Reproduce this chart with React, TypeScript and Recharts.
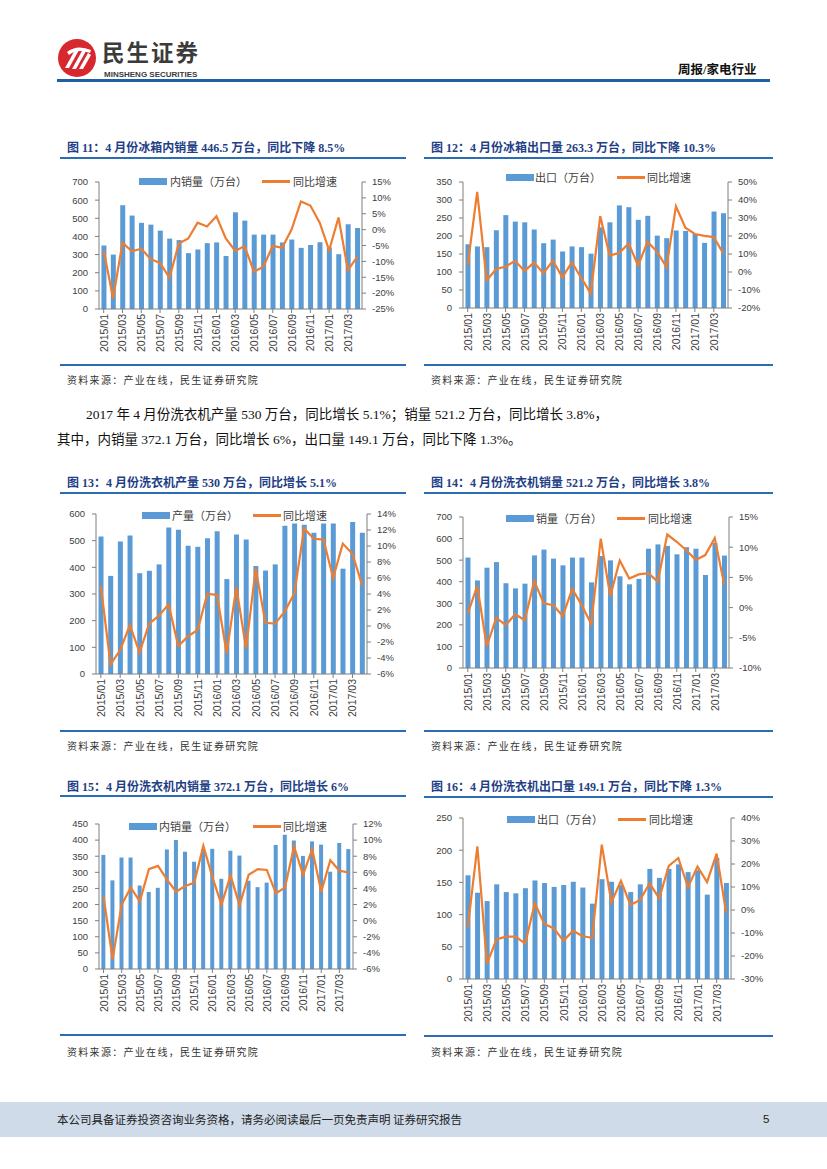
import { ComposedChart, Bar, Line, XAxis, YAxis, Legend } from "recharts"

// 2015/01 .. 2017/04
const months = [
  "2015/01", "2015/02", "2015/03", "2015/04", "2015/05", "2015/06", "2015/07", "2015/08", "2015/09", "2015/10", "2015/11", "2015/12",
  "2016/01", "2016/02", "2016/03", "2016/04", "2016/05", "2016/06", "2016/07", "2016/08", "2016/09", "2016/10", "2016/11", "2016/12",
  "2017/01", "2017/02", "2017/03", "2017/04",
]

// 图11 冰箱内销量
const fridgeDomestic = [350, 300, 572, 515, 475, 465, 432, 388, 380, 308, 328, 363, 367, 292, 533, 487, 410, 410, 410, 367, 383, 337, 353, 368, 340, 302, 467, 446.5]
const fridgeDomesticYoy = [-6.5, -21.7, -4.1, -6.8, -6.0, -9.3, -10.5, -15.2, -4.4, -2.8, 2.2, 1.0, 4.2, -2.8, -6.7, -5.2, -13.3, -11.7, -5.1, -5.7, 0, 8.9, 7.6, 2.2, -6.5, 3.8, -12.8, -8.5]

// 图12 冰箱出口量
const fridgeExport = [177, 171, 169, 216, 258, 240, 238, 218, 180, 190, 157, 171, 169, 151, 224, 238, 285, 280, 245, 256, 201, 194, 215, 214, 206, 181, 268, 263.3]
const fridgeExportYoy = [3.9, 44.5, -4.7, 1.7, 3.0, 6.2, 0.6, 5.2, -0.7, 6.3, -3.0, 5.4, -3.4, -11.9, 31.0, 9.1, 10.6, 15.9, 3.6, 16.8, 11.3, 2.7, 36.5, 24.6, 21.1, 20.1, 19.4, 10.3]

// 图13 洗衣机产量
const washerOutput = [516, 368, 497, 519, 378, 387, 411, 549, 541, 481, 477, 509, 535, 356, 523, 504, 405, 388, 411, 556, 564, 560, 530, 564, 564, 395, 570, 530]
const washerOutputYoy = [5.0, -4.8, -3.0, 0.1, -3.3, 0.3, 1.3, 2.7, -2.5, -1.3, -0.5, 4.0, 3.9, -3.4, 4.9, -2.8, 7.2, 0.4, 0.3, 1.8, 4.1, 12.2, 10.9, 10.8, 6.0, 10.3, 9.0, 5.1]

// 图14 洗衣机销量
const washerSales = [512, 406, 465, 491, 393, 369, 391, 522, 549, 507, 476, 512, 512, 397, 519, 499, 425, 388, 413, 553, 573, 566, 527, 560, 553, 431, 580, 521.2]
const washerSalesYoy = [-1.0, 3.6, -6.4, -1.7, -2.9, -1.1, -2.1, 4.4, 0.7, 0.4, -1.4, 3.1, 0.4, -2.7, 11.4, 1.9, 7.8, 4.8, 5.5, 5.7, 4.3, 12.1, 10.9, 9.5, 7.9, 8.7, 11.5, 3.8]

// 图15 洗衣机内销量
const washerDomestic = [354, 275, 346, 346, 259, 239, 252, 371, 400, 364, 333, 372, 373, 280, 367, 352, 274, 254, 268, 385, 417, 399, 351, 396, 386, 302, 391, 372.1]
const washerDomesticYoy = [3.0, -4.8, 2.0, 4.1, 2.4, 6.4, 6.8, 5.1, 3.6, 4.3, 4.7, 9.3, 5.4, 2.0, 5.6, 1.9, 5.7, 6.4, 6.3, 3.4, 4.1, 9.2, 5.7, 8.9, 3.6, 7.5, 6.2, 6.0]

// 图16 洗衣机出口量
const washerExport = [161, 134, 121, 147, 135, 133, 141, 153, 149, 143, 146, 151, 142, 117, 155, 151, 146, 135, 147, 171, 157, 171, 178, 166, 169, 131, 188, 149.1]
const washerExportYoy = [-7.6, 27.7, -23.3, -12.8, -11.6, -11.6, -14.6, 2.9, -6.1, -8.0, -13.4, -9.0, -11.4, -12.1, 28.4, 3.3, 12.7, 2.2, 4.4, 11.6, 5.1, 19.2, 22.6, 9.9, 18.9, 12.1, 24.5, -1.3]

const BLUE_BAR = "#5b9bd5"
const ORANGE = "#ed7d31"
const AXIS = "#7f7f7f"
const TICK_TEXT = "#404040"
const RULE = "#2a6db5"
const TITLE = "#1f3f86"

const tickFont = '"Liberation Sans", Arial, sans-serif'
const cjkSans = '"Noto Sans CJK SC", sans-serif'
const serifCjk = '"Liberation Serif", "Noto Sans CJK SC", serif'

function buildRows(values: number[], yoy: number[]) {
  return months.map((m, i) => ({ month: m, value: values[i], yoy: yoy[i] }))
}

const MonthTick = (props: any) => {
  const { x, y, payload } = props
  return (
    <text
      x={x}
      y={y}
      transform={`rotate(-90 ${x} ${y})`}
      textAnchor="end"
      dominantBaseline="central"
      fontSize={10.5}
      fontFamily={tickFont}
      fill={TICK_TEXT}
    >
      {payload.value}
    </text>
  )
}

interface LegendPos {
  sw1: number
  tx1: number
  sw2: number
  tx2: number
  y: number
}

interface ChartBoxProps {
  rows: { month: string; value: number; yoy: number }[]
  barName: string
  leftMax: number
  leftStep: number
  rightMin: number
  rightMax: number
  rightStep: number
  plot: { l: number; t: number; r: number; b: number }
  legend: LegendPos
}

function range(min: number, max: number, step: number) {
  const out: number[] = []
  for (let v = min; v <= max + 1e-9; v += step) out.push(Math.round(v * 100) / 100)
  return out
}

function ChartBox({ rows, barName, leftMax, leftStep, rightMin, rightMax, rightStep, plot, legend }: ChartBoxProps) {
  const width = plot.r - plot.l + 88
  const height = plot.b - plot.t + 58
  const chartLeft = plot.l - 44
  const chartTop = plot.t - 8

  const renderLegend = (lp: any) => {
    const items = lp.payload || []
    const barItem = items.find((p: any) => p.dataKey === "value")
    const lineItem = items.find((p: any) => p.dataKey === "yoy")
    const cy = legend.y - chartTop
    const txt = { position: "absolute" as const, top: cy - 8, fontSize: 11, lineHeight: "16px", fontFamily: cjkSans, color: "#404040", whiteSpace: "nowrap" as const }
    return (
      <div style={{ position: "relative", width, height: 0 }}>
        <div style={{ position: "absolute", left: legend.sw1 - chartLeft, top: cy - 3.5, width: 28, height: 7, background: barItem?.color || BLUE_BAR }} />
        <div style={{ ...txt, left: legend.tx1 - chartLeft }}>{barItem?.value}</div>
        <div style={{ position: "absolute", left: legend.sw2 - chartLeft, top: cy - 1.5, width: 28, height: 3, background: lineItem?.color || ORANGE }} />
        <div style={{ ...txt, left: legend.tx2 - chartLeft }}>{lineItem?.value}</div>
      </div>
    )
  }

  return (
    <div style={{ position: "absolute", left: chartLeft, top: chartTop }}>
      <ComposedChart width={width} height={height} data={rows} margin={{ top: 8, right: 4, left: 4, bottom: 0 }} barCategoryGap="26%">
        <XAxis
          dataKey="month"
          interval={1}
          height={50}
          tick={<MonthTick />}
          tickSize={4}
          tickMargin={1}
          stroke={AXIS}
        />
        <YAxis
          yAxisId="left"
          width={40}
          domain={[0, leftMax]}
          ticks={range(0, leftMax, leftStep)}
          tickSize={4}
          tickMargin={7}
          stroke={AXIS}
          tick={{ fontSize: 9.5, fill: TICK_TEXT, fontFamily: tickFont }}
          allowDataOverflow
        />
        <YAxis
          yAxisId="right"
          orientation="right"
          width={40}
          domain={[rightMin, rightMax]}
          ticks={range(rightMin, rightMax, rightStep)}
          tickSize={4}
          tickMargin={6}
          stroke={AXIS}
          tick={{ fontSize: 9.5, fill: TICK_TEXT, fontFamily: tickFont }}
          tickFormatter={(v: number) => `${v}%`}
          allowDataOverflow
        />
        <Legend
          layout="horizontal"
          verticalAlign="middle"
          align="center"
          content={renderLegend}
          wrapperStyle={{ top: 0, left: 0, width, height: 0 }}
        />
        <Bar yAxisId="left" dataKey="value" name={barName} fill={BLUE_BAR} isAnimationActive={false} />
        <Line
          yAxisId="right"
          type="linear"
          dataKey="yoy"
          name="同比增速"
          stroke={ORANGE}
          strokeWidth={2.2}
          dot={false}
          isAnimationActive={false}
        />
      </ComposedChart>
    </div>
  )
}

function Frame({ x, x2, titleY, ruleY, bottomY, sourceY, title }: { x: number; x2: number; titleY: number; ruleY: number; bottomY: number; sourceY: number; title: string }) {
  return (
    <>
      <div
        style={{
          position: "absolute",
          left: x + 7,
          top: titleY - 8,
          fontSize: 12,
          lineHeight: "16px",
          fontWeight: 700,
          color: TITLE,
          fontFamily: serifCjk,
          whiteSpace: "nowrap",
        }}
      >
        {title}
      </div>
      <div style={{ position: "absolute", left: x, top: ruleY - 1, width: x2 - x, height: 2, background: RULE }} />
      <div style={{ position: "absolute", left: x, top: bottomY - 1, width: x2 - x, height: 1.5, background: RULE }} />
      <div
        style={{
          position: "absolute",
          left: x + 7,
          top: sourceY - 7,
          fontSize: 10,
          lineHeight: "14px",
          letterSpacing: 1.3,
          color: "#333",
          fontFamily: serifCjk,
          whiteSpace: "nowrap",
        }}
      >
        资料来源：产业在线，民生证券研究院
      </div>
    </>
  )
}

export default function App() {
  return (
    <div style={{ position: "absolute", left: 0, top: 0, width: 827, height: 1169, background: "#fff", overflow: "hidden" }}>
      {/* header */}
      <svg style={{ position: "absolute", left: 57, top: 38 }} width={40} height={40} viewBox="0 0 40 40">
        <circle cx={20} cy={20} r={19} fill="#d7282f" />
        <path d="M8 30 L18 12 L22 12 L12 30 Z" fill="#fff" />
        <path d="M15 31 L25 13 L29 13 L19 31 Z" fill="#fff" />
        <path d="M22 31 L31 15 L34 17 L26 31 Z" fill="#fff" />
        <path d="M10 14 Q20 6 34 12 L33 15 Q20 10 12 17 Z" fill="#fff" />
      </svg>
      <div style={{ position: "absolute", left: 102, top: 40, fontSize: 22.5, lineHeight: "23px", letterSpacing: 2, fontWeight: 700, color: "#3b3b3b", fontFamily: cjkSans }}>
        民生证券
      </div>
      <div style={{ position: "absolute", left: 104, top: 69.5, fontSize: 8, lineHeight: "9px", fontWeight: 700, color: "#3b3b3b", fontFamily: '"Liberation Sans", Arial, sans-serif' }}>
        MINSHENG SECURITIES
      </div>
      <div style={{ position: "absolute", left: 678, top: 62, fontSize: 12.5, lineHeight: "16px", fontWeight: 700, color: "#111", fontFamily: serifCjk }}>
        周报/家电行业
      </div>
      <div style={{ position: "absolute", left: 57, top: 79, width: 713, height: 3, background: "#1f5fa6" }} />

      {/* row 1 */}
      <Frame x={60} x2={406} titleY={148} ruleY={158} bottomY={365} sourceY={381} title="图 11：4 月份冰箱内销量 446.5 万台，同比下降 8.5%" />
      <Frame x={424} x2={773} titleY={148} ruleY={158} bottomY={365} sourceY={381} title="图 12：4 月份冰箱出口量 263.3 万台，同比下降 10.3%" />
      <ChartBox
        rows={buildRows(fridgeDomestic, fridgeDomesticYoy)}
        barName="内销量（万台）"
        leftMax={700}
        leftStep={100}
        rightMin={-25}
        rightMax={15}
        rightStep={5}
        plot={{ l: 99, t: 182, r: 362, b: 309 }}
        legend={{ sw1: 139, tx1: 170, sw2: 262, tx2: 293, y: 181 }}
      />
      <ChartBox
        rows={buildRows(fridgeExport, fridgeExportYoy)}
        barName="出口（万台）"
        leftMax={350}
        leftStep={50}
        rightMin={-20}
        rightMax={50}
        rightStep={10}
        plot={{ l: 463, t: 182, r: 728, b: 308 }}
        legend={{ sw1: 506, tx1: 535, sw2: 617, tx2: 647, y: 177 }}
      />

      {/* paragraph */}
      <div style={{ position: "absolute", left: 86, top: 406, fontSize: 13.5, lineHeight: "18px", color: "#111", fontFamily: serifCjk, whiteSpace: "nowrap" }}>
        2017 年 4 月份洗衣机产量 530 万台，同比增长 5.1%；销量 521.2 万台，同比增长 3.8%，
      </div>
      <div style={{ position: "absolute", left: 57, top: 431, fontSize: 13.5, lineHeight: "18px", color: "#111", fontFamily: serifCjk, whiteSpace: "nowrap" }}>
        其中，内销量 372.1 万台，同比增长 6%，出口量 149.1 万台，同比下降 1.3%。
      </div>

      {/* row 2 */}
      <Frame x={60} x2={406} titleY={483} ruleY={493} bottomY={731} sourceY={747} title="图 13：4 月份洗衣机产量 530 万台，同比增长 5.1%" />
      <Frame x={424} x2={773} titleY={483} ruleY={493} bottomY={731} sourceY={747} title="图 14：4 月份洗衣机销量 521.2 万台，同比增长 3.8%" />
      <ChartBox
        rows={buildRows(washerOutput, washerOutputYoy)}
        barName="产量（万台）"
        leftMax={600}
        leftStep={100}
        rightMin={-6}
        rightMax={14}
        rightStep={2}
        plot={{ l: 96, t: 514, r: 367, b: 674 }}
        legend={{ sw1: 142, tx1: 172, sw2: 253, tx2: 283, y: 515 }}
      />
      <ChartBox
        rows={buildRows(washerSales, washerSalesYoy)}
        barName="销量（万台）"
        leftMax={700}
        leftStep={100}
        rightMin={-10}
        rightMax={15}
        rightStep={5}
        plot={{ l: 463, t: 517, r: 729, b: 668 }}
        legend={{ sw1: 506, tx1: 536, sw2: 617, tx2: 648, y: 518 }}
      />

      {/* row 3 */}
      <Frame x={60} x2={406} titleY={787} ruleY={796} bottomY={1035} sourceY={1053} title="图 15：4 月份洗衣机内销量 372.1 万台，同比增长 6%" />
      <Frame x={424} x2={773} titleY={787} ruleY={797} bottomY={1036} sourceY={1053} title="图 16：4 月份洗衣机出口量 149.1 万台，同比下降 1.3%" />
      <ChartBox
        rows={buildRows(washerDomestic, washerDomesticYoy)}
        barName="内销量（万台）"
        leftMax={450}
        leftStep={50}
        rightMin={-6}
        rightMax={12}
        rightStep={2}
        plot={{ l: 99, t: 824, r: 353, b: 969 }}
        legend={{ sw1: 129, tx1: 159, sw2: 253, tx2: 283, y: 826 }}
      />
      <ChartBox
        rows={buildRows(washerExport, washerExportYoy)}
        barName="出口（万台）"
        leftMax={250}
        leftStep={50}
        rightMin={-30}
        rightMax={40}
        rightStep={10}
        plot={{ l: 463, t: 818, r: 731, b: 979 }}
        legend={{ sw1: 507, tx1: 537, sw2: 618, tx2: 649, y: 819 }}
      />

      {/* footer */}
      <div style={{ position: "absolute", left: 0, top: 1102, width: 827, height: 35, background: "#cfdbe8" }} />
      <div style={{ position: "absolute", left: 57, top: 1112, fontSize: 11.5, lineHeight: "14px", color: "#222", fontFamily: cjkSans, whiteSpace: "nowrap" }}>
        本公司具备证券投资咨询业务资格，请务必阅读最后一页免责声明 证券研究报告
      </div>
      <div style={{ position: "absolute", left: 763, top: 1112, fontSize: 11.5, lineHeight: "14px", color: "#222", fontFamily: tickFont }}>
        5
      </div>
    </div>
  )
}
